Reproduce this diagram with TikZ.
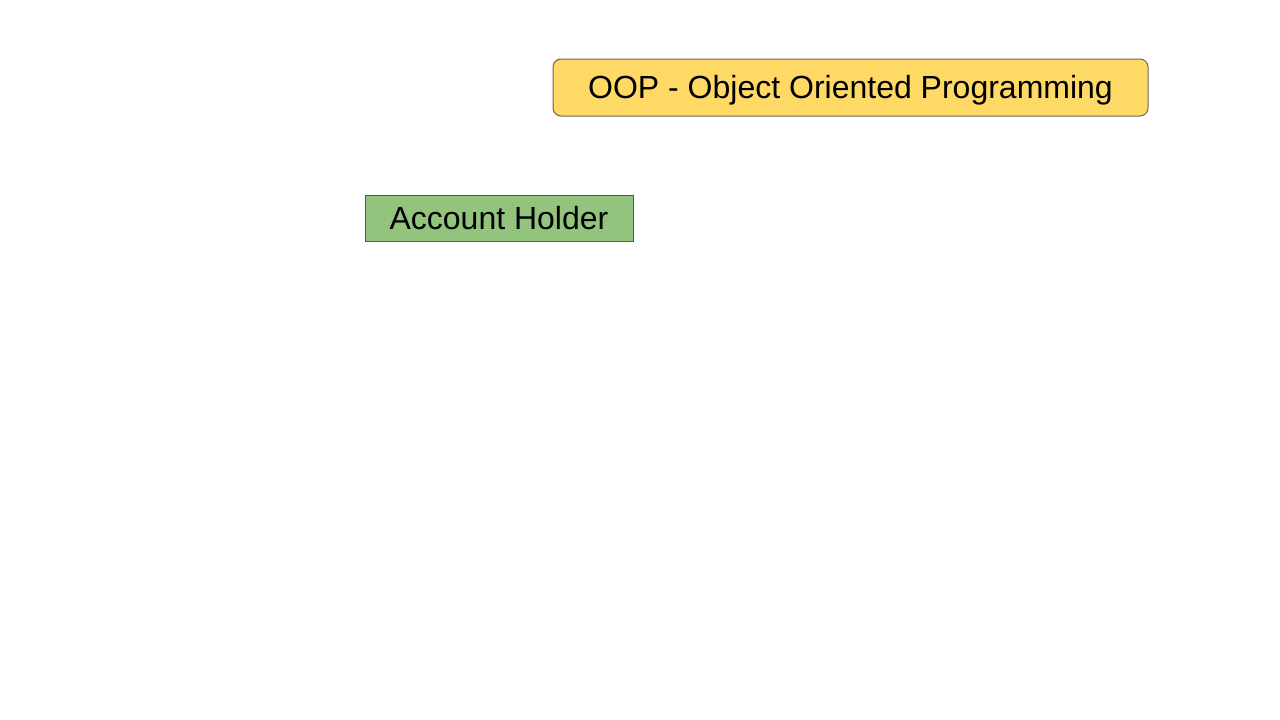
\documentclass[tikz,border=0pt]{standalone}
\usepackage{fontspec}
\setmainfont{Liberation Sans}
\definecolor{titlefill}{HTML}{FFD966}
\definecolor{titledraw}{HTML}{6E6450}
\definecolor{boxfill}{HTML}{93C47D}
\definecolor{boxdraw}{HTML}{555555}
\tikzset{
  titlebox/.style={draw=titledraw, fill=titlefill, rounded corners=8pt, line width=1pt,
    minimum width=595pt, minimum height=57pt, inner sep=0pt, text height=22.9pt, text depth=0pt,
    font=\fontsize{32}{32}\selectfont},
  classbox/.style={draw=boxdraw, fill=boxfill, line width=1pt,
    minimum width=268pt, minimum height=46pt, inner sep=0pt, text height=22.9pt, text depth=0pt,
    font=\fontsize{32}{32}\selectfont}
}
\begin{document}
\begin{tikzpicture}[x=1pt,y=-1pt]
\useasboundingbox (0,0) rectangle (1280,720);
\fill[white] (0,0) rectangle (1280,720);
\node[titlebox] (title) at (850.5,87.5) {OOP - Object Oriented Programming};
\node[classbox] (holder) at (499,218) {Account Holder};
\end{tikzpicture}
\end{document}
